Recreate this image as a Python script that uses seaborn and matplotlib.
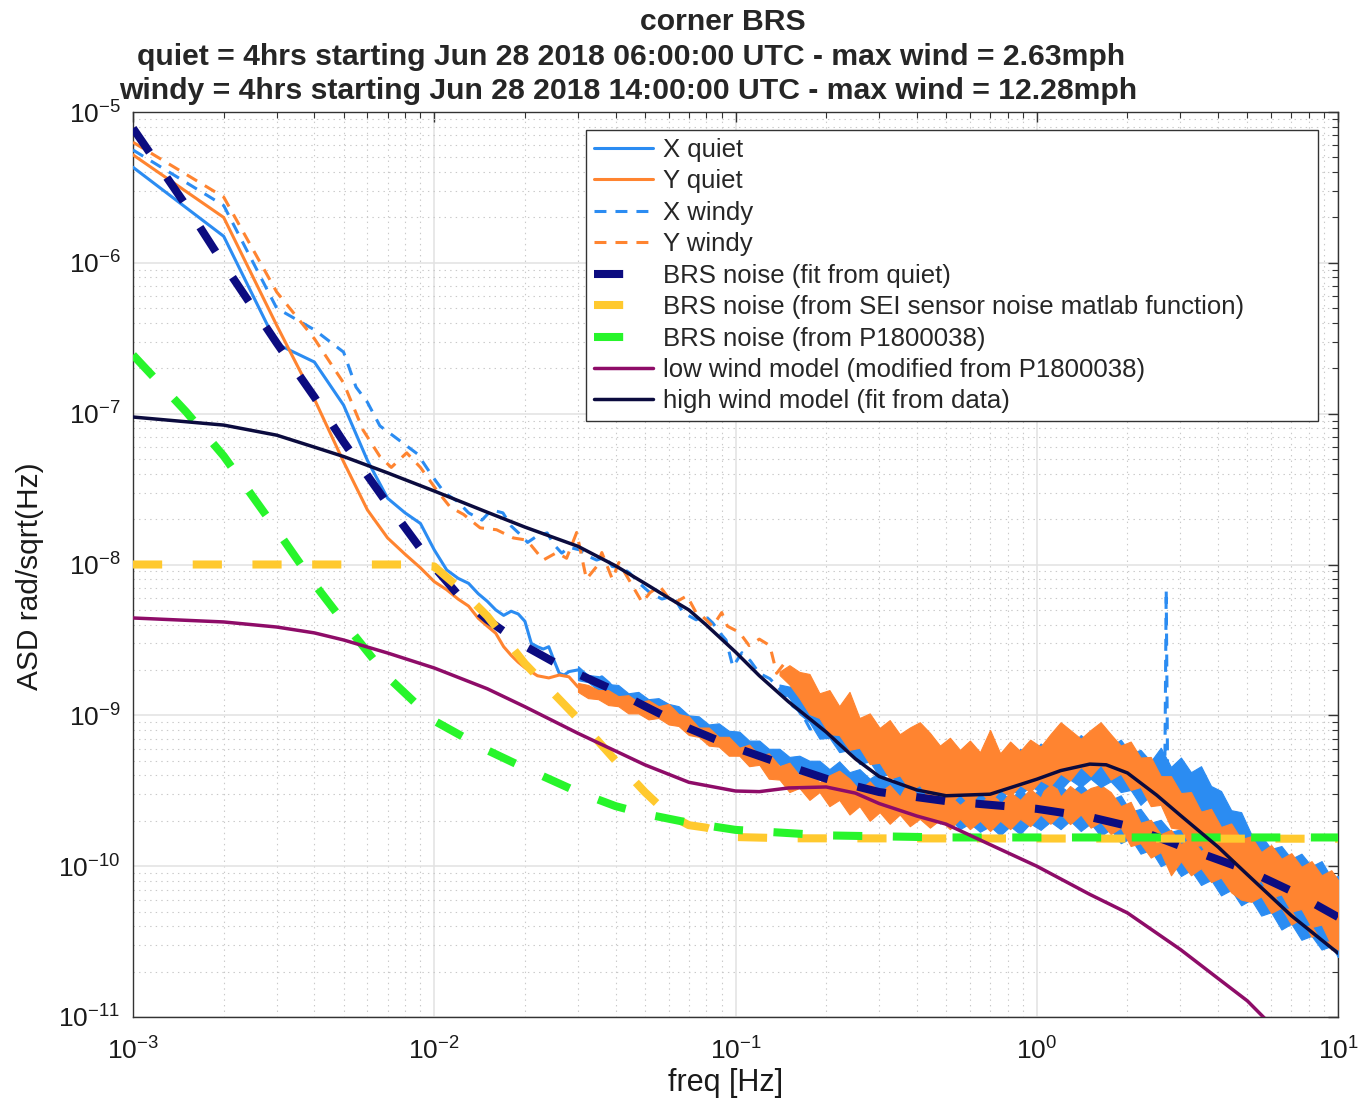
import numpy as np
import matplotlib
matplotlib.use("Agg")
import matplotlib.pyplot as plt
import seaborn as sns
from matplotlib.ticker import FixedLocator, NullFormatter, LogFormatterSciNotation

# ---------------- data ----------------
# X quiet (sparse low-frequency part)
xq_f = [0.001, 0.002, 0.003, 0.004, 0.005, 0.006, 0.007, 0.008, 0.009, 0.010,
        0.011, 0.012, 0.013, 0.014, 0.015, 0.016, 0.017, 0.018, 0.019, 0.020,
        0.021, 0.022, 0.023, 0.024, 0.025, 0.026, 0.027, 0.028, 0.030, 0.032,
        0.034, 0.036, 0.038, 0.040]
xq_v = [4.3e-6, 1.5e-6, 2.9e-7, 2.2e-7, 1.14e-7, 4.9e-8, 2.75e-8, 2.2e-8, 1.87e-8, 1.25e-8,
        9.2e-9, 8.1e-9, 7.5e-9, 6.4e-9, 5.7e-9, 5.0e-9, 4.6e-9, 4.9e-9, 4.7e-9, 4.2e-9,
        3.0e-9, 2.85e-9, 2.75e-9, 2.85e-9, 2.3e-9, 1.9e-9, 1.85e-9, 1.95e-9, 2.0e-9, 1.85e-9,
        1.7e-9, 1.8e-9, 1.64e-9, 1.45e-9]

# Y quiet (sparse low-frequency part)
yq_f = [0.001, 0.002, 0.003, 0.004, 0.005, 0.006, 0.007, 0.008, 0.009, 0.010,
        0.011, 0.012, 0.013, 0.014, 0.015, 0.016, 0.017, 0.018, 0.019, 0.020,
        0.022, 0.024, 0.026, 0.028, 0.030, 0.033, 0.036, 0.040]
yq_v = [5.2e-6, 2.0e-6, 3.85e-7, 1.25e-7, 4.8e-8, 2.3e-8, 1.5e-8, 1.17e-8, 9.5e-9, 7.7e-9,
        6.8e-9, 5.9e-9, 5.3e-9, 4.4e-9, 3.9e-9, 3.5e-9, 2.85e-9, 2.5e-9, 2.25e-9, 2.07e-9,
        1.83e-9, 1.77e-9, 1.85e-9, 1.8e-9, 1.54e-9, 1.5e-9, 1.38e-9, 1.34e-9]

# frequencies of the dense, noisy part (upper / lower envelope of the spectra)
band_f = [0.030, 0.0324, 0.035, 0.0378, 0.0408, 0.0441, 0.0476, 0.0514, 0.0555, 0.060,
          0.0647, 0.070, 0.0755, 0.0815, 0.088, 0.095, 0.103, 0.111, 0.12, 0.129,
          0.14, 0.151, 0.163, 0.176, 0.19, 0.205, 0.221, 0.239, 0.258, 0.279,
          0.301, 0.325, 0.351, 0.379, 0.409, 0.442, 0.477, 0.515, 0.556, 0.60,
          0.648, 0.70, 0.756, 0.816, 0.881, 0.951, 1.03, 1.11, 1.2, 1.29,
          1.4, 1.51, 1.63, 1.76, 1.9, 2.05, 2.21, 2.39, 2.58, 2.79,
          3.01, 3.25, 3.51, 3.79, 4.09, 4.42, 4.77, 5.15, 5.56, 6.0,
          6.49, 7.0, 7.56, 8.17, 8.82, 9.5, 10.0]
xq_hi = [2.12e-9, 1.85e-9, 1.82e-9, 1.61e-9, 1.59e-9, 1.40e-9, 1.43e-9, 1.28e-9, 1.30e-9, 1.19e-9,
         1.15e-9, 1.0e-9, 9.85e-10, 8.7e-10, 8.85e-10, 7.9e-10, 7.8e-10, 6.8e-10, 6.8e-10, 6.0e-10,
         6.0e-10, 5.3e-10, 5.4e-10, 5.0e-10, 5.0e-10, 4.4e-10, 4.95e-10, 4.2e-10, 4.4e-10, 3.8e-10,
         4.2e-10, 3.6e-10, 3.8e-10, 3.35e-10, 3.65e-10, 3.1e-10, 3.4e-10, 3.0e-10, 3.35e-10, 2.85e-10,
         3.15e-10, 2.7e-10, 3.1e-10, 2.8e-10, 3.2e-10, 2.85e-10, 3.3e-10, 2.95e-10, 3.4e-10, 3.05e-10,
         3.5e-10, 3.0e-10, 3.25e-10, 2.75e-10, 2.95e-10, 2.3e-10, 2.4e-10, 1.94e-10, 2.03e-10, 1.69e-10,
         1.76e-10, 1.45e-10, 1.55e-10, 1.28e-10, 1.38e-10, 1.16e-10, 1.26e-10, 1.03e-10, 1.14e-10, 9.4e-11,
         1.02e-10, 8.4e-11, 9.1e-11, 7.5e-11, 8.1e-11, 6.7e-11, 7.4e-11]
xq_lo = [1.71e-9, 1.66e-9, 1.47e-9, 1.45e-9, 1.28e-9, 1.26e-9, 1.15e-9, 1.15e-9, 1.03e-9, 1.03e-9,
         9.0e-10, 8.7e-10, 7.8e-10, 7.65e-10, 7.0e-10, 6.9e-10, 6.1e-10, 6.1e-10, 5.5e-10, 5.4e-10,
         4.7e-10, 4.6e-10, 4.1e-10, 4.3e-10, 3.75e-10, 3.95e-10, 3.5e-10, 3.65e-10, 3.25e-10, 3.45e-10,
         3.0e-10, 3.1e-10, 2.55e-10, 2.63e-10, 2.2e-10, 2.3e-10, 1.92e-10, 2.06e-10, 1.76e-10, 1.92e-10,
         1.69e-10, 1.84e-10, 1.6e-10, 1.84e-10, 1.63e-10, 1.92e-10, 1.74e-10, 1.97e-10, 1.76e-10, 2.0e-10,
         1.71e-10, 1.92e-10, 1.58e-10, 1.76e-10, 1.42e-10, 1.53e-10, 1.21e-10, 1.28e-10, 1.0e-10, 1.08e-10,
         8.6e-11, 9.4e-11, 7.5e-11, 8.1e-11, 6.4e-11, 6.95e-11, 5.5e-11, 6.0e-11, 4.7e-11, 4.95e-11,
         3.8e-11, 4.15e-11, 3.25e-11, 3.45e-11, 2.8e-11, 2.95e-11, 2.5e-11]
yq_hi = [1.64e-9, 1.59e-9, 1.47e-9, 1.47e-9, 1.34e-9, 1.36e-9, 1.22e-9, 1.26e-9, 1.15e-9, 1.19e-9,
         1.02e-9, 9.85e-10, 8.3e-10, 8.3e-10, 7.2e-10, 7.2e-10, 6.1e-10, 6.4e-10, 5.4e-10, 5.6e-10,
         4.6e-10, 4.85e-10, 4.0e-10, 4.3e-10, 3.6e-10, 4.0e-10, 4.3e-10, 3.8e-10, 3.2e-10, 3.65e-10,
         3.1e-10, 3.45e-10, 2.9e-10, 3.8e-10, 2.8e-10, 3.25e-10, 2.75e-10, 3.2e-10, 2.7e-10, 3.1e-10,
         2.67e-10, 3.7e-10, 2.55e-10, 3.1e-10, 2.75e-10, 3.25e-10, 2.85e-10, 4.0e-10, 2.9e-10, 3.4e-10,
         3.0e-10, 3.3e-10, 3.45e-10, 3.1e-10, 2.5e-10, 2.67e-10, 1.94e-10, 2.03e-10, 1.63e-10, 1.74e-10,
         1.4e-10, 1.53e-10, 1.26e-10, 1.4e-10, 1.14e-10, 1.24e-10, 1.0e-10, 1.14e-10, 9.1e-11, 1.03e-10,
         8.4e-11, 9.6e-11, 7.5e-11, 8.4e-11, 6.6e-11, 7.6e-11, 6.4e-11]
yq_lo = [1.43e-9, 1.30e-9, 1.28e-9, 1.17e-9, 1.15e-9, 1.03e-9, 1.03e-9, 9.4e-10, 9.6e-10, 8.7e-10,
         8.5e-10, 7.4e-10, 7.2e-10, 6.3e-10, 6.2e-10, 5.4e-10, 5.4e-10, 4.6e-10, 4.7e-10, 3.8e-10,
         3.75e-10, 3.1e-10, 3.3e-10, 2.75e-10, 3.1e-10, 2.5e-10, 2.75e-10, 2.2e-10, 2.5e-10, 2.0e-10,
         2.28e-10, 1.91e-10, 2.2e-10, 1.84e-10, 2.06e-10, 1.8e-10, 2.03e-10, 1.76e-10, 2.06e-10, 1.76e-10,
         2.0e-10, 1.71e-10, 2.0e-10, 1.76e-10, 2.06e-10, 1.84e-10, 2.2e-10, 1.91e-10, 2.23e-10, 1.9e-10,
         2.2e-10, 1.8e-10, 1.97e-10, 1.63e-10, 1.8e-10, 1.36e-10, 1.42e-10, 1.14e-10, 1.24e-10, 8.7e-11,
         1.08e-10, 8.7e-11, 9.7e-11, 7.85e-11, 8.4e-11, 6.7e-11, 6.0e-11, 5.8e-11, 6.3e-11, 4.9e-11,
         5.3e-11, 4.1e-11, 4.5e-11, 3.4e-11, 3.75e-11, 2.8e-11, 3.0e-11]

# X windy
xw_f = [0.001, 0.002, 0.003, 0.004, 0.005, 0.0055, 0.006, 0.0066, 0.0077, 0.0088,
        0.0099, 0.0108, 0.012, 0.013, 0.0144, 0.0155, 0.0169, 0.018, 0.0197, 0.0204,
        0.022, 0.0237, 0.025, 0.0265, 0.028, 0.0304, 0.032, 0.0346, 0.037, 0.039,
        0.042, 0.0445, 0.048, 0.052, 0.057, 0.062, 0.067, 0.074, 0.079, 0.084,
        0.089, 0.093, 0.098, 0.105, 0.112, 0.12, 0.13, 0.14, 0.155, 0.165,
        0.177, 0.19, 0.2, 0.213, 0.227, 0.245, 0.26, 0.28, 0.3, 0.35,
        0.5, 0.7, 1.0, 1.5, 2.0, 2.5, 2.66, 2.69, 2.72, 3.0,
        4.0, 5.0, 7.0, 10.0]
xw_v = [5.6e-6, 2.4e-6, 5.0e-7, 3.6e-7, 2.56e-7, 1.5e-7, 1.19e-7, 8.3e-8, 6.6e-8, 5.4e-8,
        3.8e-8, 3.0e-8, 2.6e-8, 2.2e-8, 1.97e-8, 2.3e-8, 2.2e-8, 1.8e-8, 1.52e-8, 1.4e-8,
        1.55e-8, 1.62e-8, 1.35e-8, 1.19e-8, 1.3e-8, 1.25e-8, 1.15e-8, 1.07e-8, 1.12e-8, 9.7e-9,
        9.5e-9, 8.8e-9, 7.5e-9, 6.5e-9, 5.9e-9, 6.2e-9, 4.8e-9, 4.3e-9, 4.6e-9, 4.1e-9,
        3.5e-9, 3.16e-9, 2.1e-9, 2.6e-9, 2.3e-9, 1.9e-9, 1.75e-9, 1.5e-9, 1.15e-9, 1.05e-9,
        8.1e-10, 9.0e-10, 9.4e-10, 7.5e-10, 7.0e-10, 6.0e-10, 5.6e-10, 5.0e-10, 5.3e-10, 4.3e-10,
        3.9e-10, 3.9e-10, 4.4e-10, 4.9e-10, 4.4e-10, 3.8e-10, 3.7e-10, 6.8e-9, 3.7e-10, 3.5e-10,
        2.3e-10, 1.3e-10, 6.8e-11, 4.6e-11]

# Y windy
yw_f = [0.001, 0.002, 0.003, 0.004, 0.005, 0.0058, 0.0066, 0.0072, 0.0081, 0.009,
        0.0102, 0.0113, 0.0125, 0.0142, 0.0161, 0.0183, 0.0203, 0.023, 0.0255, 0.0275,
        0.0297, 0.032, 0.0346, 0.036, 0.039, 0.041, 0.045, 0.049, 0.052, 0.056,
        0.062, 0.069, 0.074, 0.078, 0.084, 0.09, 0.094, 0.103, 0.111, 0.12,
        0.13, 0.137, 0.145, 0.155, 0.165, 0.177, 0.188, 0.2, 0.213, 0.227,
        0.245, 0.26, 0.28, 0.295, 0.35, 0.5, 0.7, 1.0, 1.5, 2.0,
        3.0, 4.0, 5.0, 7.0, 10.0]
yw_v = [6.3e-6, 2.73e-6, 6.4e-7, 3.14e-7, 1.6e-7, 7.8e-8, 5.2e-8, 4.4e-8, 5.5e-8, 4.4e-8,
        3.1e-8, 2.4e-8, 2.15e-8, 1.75e-8, 1.7e-8, 1.5e-8, 1.45e-8, 1.07e-8, 1.2e-8, 1.1e-8,
        1.63e-8, 8.0e-9, 9.7e-9, 1.2e-8, 8.0e-9, 1.03e-8, 7.5e-9, 5.6e-9, 6.5e-9, 7.2e-9,
        5.5e-9, 6.2e-9, 4.8e-9, 4.5e-9, 3.9e-9, 4.8e-9, 3.9e-9, 3.55e-9, 2.9e-9, 3.2e-9,
        2.9e-9, 1.9e-9, 2.2e-9, 1.8e-9, 1.5e-9, 1.28e-9, 1.35e-9, 1.15e-9, 9.5e-10, 7.7e-10,
        9.0e-10, 8.5e-10, 6.5e-10, 6.0e-10, 4.6e-10, 4.1e-10, 4.2e-10, 4.8e-10, 5.6e-10, 4.9e-10,
        2.3e-10, 1.45e-10, 1.1e-10, 7.0e-11, 4.7e-11]

# envelope of the dense windy data (from 0.14 Hz upward)
wband_f = band_f[20:]
xw_hi = [1.6e-9, 1.55e-9, 1.57e-9, 1.36e-9, 1.32e-9, 1.06e-9, 1.11e-9, 9.0e-10, 9.6e-10, 7.9e-10,
         8.25e-10, 6.9e-10, 7.4e-10, 6.1e-10, 6.6e-10, 5.6e-10, 6.2e-10, 5.25e-10, 5.8e-10, 4.95e-10,
         5.6e-10, 4.85e-10, 5.5e-10, 5.0e-10, 6.0e-10, 5.4e-10, 6.5e-10, 5.9e-10, 7.0e-10, 6.3e-10,
         7.4e-10, 6.5e-10, 7.4e-10, 6.2e-10, 6.9e-10, 5.6e-10, 5.9e-10, 4.95e-10, 6.1e-10, 4.55e-10,
         5.25e-10, 4.2e-10, 4.6e-10, 3.4e-10, 3.15e-10, 2.35e-10, 2.28e-10, 1.63e-10, 1.6e-10, 1.3e-10,
         1.36e-10, 1.12e-10, 1.21e-10, 1.0e-10, 1.08e-10, 8.4e-11, 8.6e-11]
xw_lo = [1.52e-9, 1.3e-9, 1.02e-9, 9.0e-10, 7.0e-10, 7.1e-10, 5.7e-10, 5.9e-10, 4.75e-10, 4.95e-10,
         3.9e-10, 4.1e-10, 3.35e-10, 3.55e-10, 2.9e-10, 3.2e-10, 2.63e-10, 3.0e-10, 2.6e-10, 2.95e-10,
         2.63e-10, 3.1e-10, 2.75e-10, 3.25e-10, 2.95e-10, 3.4e-10, 3.1e-10, 3.55e-10, 3.2e-10, 3.75e-10,
         3.35e-10, 3.8e-10, 3.35e-10, 3.65e-10, 3.1e-10, 3.2e-10, 2.55e-10, 2.95e-10, 2.55e-10, 2.9e-10,
         2.5e-10, 2.63e-10, 2.13e-10, 2.13e-10, 1.53e-10, 1.47e-10, 1.02e-10, 1.0e-10, 7.5e-11, 7.4e-11,
         5.35e-11, 5.3e-11, 4.0e-11, 4.15e-11, 3.25e-11, 3.2e-11, 2.5e-11]
yw_hi = [1.95e-9, 2.15e-9, 1.94e-9, 1.88e-9, 1.40e-9, 1.47e-9, 1.15e-9, 1.43e-9, 9.6e-10, 1.03e-9,
         8.25e-10, 9.3e-10, 7.5e-10, 8.3e-10, 9.0e-10, 7.65e-10, 6.3e-10, 7.1e-10, 5.9e-10, 6.8e-10,
         5.7e-10, 8.0e-10, 5.6e-10, 6.7e-10, 5.8e-10, 6.9e-10, 6.2e-10, 7.5e-10, 9.0e-10, 8.0e-10,
         7.0e-10, 8.0e-10, 9.0e-10, 7.5e-10, 6.3e-10, 6.7e-10, 5.25e-10, 5.3e-10, 3.95e-10, 3.95e-10,
         3.05e-10, 3.1e-10, 2.3e-10, 2.4e-10, 1.82e-10, 1.92e-10, 1.51e-10, 1.58e-10, 1.24e-10, 1.38e-10,
         1.12e-10, 1.22e-10, 9.9e-11, 1.08e-10, 8.7e-11, 9.4e-11, 8.1e-11]
yw_lo = [1.85e-9, 1.6e-9, 1.30e-9, 1.02e-9, 9.6e-10, 7.5e-10, 7.4e-10, 5.9e-10, 6.1e-10, 4.75e-10,
         4.85e-10, 3.8e-10, 4.0e-10, 3.2e-10, 3.45e-10, 2.75e-10, 3.0e-10, 2.6e-10, 3.0e-10, 2.55e-10,
         3.1e-10, 2.67e-10, 3.2e-10, 2.9e-10, 3.45e-10, 3.1e-10, 3.7e-10, 3.4e-10, 4.1e-10, 3.7e-10,
         4.55e-10, 3.95e-10, 4.7e-10, 3.75e-10, 4.1e-10, 3.2e-10, 3.35e-10, 2.5e-10, 2.55e-10, 1.8e-10,
         1.76e-10, 1.34e-10, 1.38e-10, 1.08e-10, 1.16e-10, 9.1e-11, 1.0e-10, 7.6e-11, 8.0e-11, 6.2e-11,
         6.5e-11, 5.0e-11, 5.2e-11, 3.95e-11, 4.1e-11, 3.0e-11, 2.8e-11]

# BRS noise (fit from quiet)
fit_f = [0.001, 0.0015, 0.002, 0.003, 0.004, 0.005, 0.007, 0.01, 0.012, 0.015,
         0.02, 0.025, 0.03, 0.04, 0.05, 0.07, 0.1, 0.15, 0.2, 0.3,
         0.5, 0.7, 1.0, 1.5, 2.0, 3.0, 5.0, 7.0, 10.0]
fit_v = [7.8e-6, 2.4e-6, 9.8e-7, 2.94e-7, 1.29e-7, 6.5e-8, 2.52e-8, 9.6e-9, 6.3e-9, 4.3e-9,
         2.88e-9, 2.25e-9, 1.88e-9, 1.45e-9, 1.15e-9, 8.2e-10, 6.1e-10, 4.6e-10, 3.8e-10, 3.1e-10,
         2.7e-10, 2.55e-10, 2.4e-10, 2.12e-10, 1.85e-10, 1.36e-10, 9.4e-11, 6.85e-11, 4.6e-11]

# BRS noise (from SEI sensor noise matlab function)
sei_f = [0.001, 0.008, 0.01, 0.012, 0.015, 0.02, 0.03, 0.04, 0.05, 0.06,
         0.07, 0.08, 0.1, 0.15, 10.0]
sei_v = [1.0e-8, 1.0e-8, 9.7e-9, 7.1e-9, 4.55e-9, 2.2e-9, 9.5e-10, 5.0e-10, 3.1e-10, 2.2e-10,
         1.87e-10, 1.8e-10, 1.56e-10, 1.53e-10, 1.52e-10]

# BRS noise (from P1800038)
p18_f = [0.001, 0.0015, 0.002, 0.003, 0.004, 0.005, 0.007, 0.01, 0.015, 0.02,
         0.03, 0.04, 0.05, 0.07, 0.1, 0.2, 0.5, 10.0]
p18_v = [2.45e-7, 1.03e-7, 5.24e-8, 1.69e-8, 7.43e-9, 4.16e-9, 1.8e-9, 9.2e-10, 5.87e-10, 4.47e-10,
         3.1e-10, 2.5e-10, 2.22e-10, 1.94e-10, 1.74e-10, 1.6e-10, 1.55e-10, 1.55e-10]

# low wind model (modified from P1800038)
low_f = [0.001, 0.002, 0.003, 0.004, 0.005, 0.007, 0.01, 0.015, 0.02, 0.03,
         0.05, 0.07, 0.1, 0.12, 0.15, 0.2, 0.25, 0.3, 0.4, 0.5,
         0.7, 1.0, 1.5, 2.0, 3.0, 4.0, 5.0, 7.0, 10.0]
low_v = [4.42e-9, 4.16e-9, 3.85e-9, 3.52e-9, 3.16e-9, 2.59e-9, 2.06e-9, 1.5e-9, 1.14e-9, 7.6e-10,
         4.7e-10, 3.6e-10, 3.15e-10, 3.12e-10, 3.3e-10, 3.35e-10, 3.05e-10, 2.6e-10, 2.15e-10, 1.9e-10,
         1.39e-10, 1.0e-10, 6.5e-11, 4.9e-11, 2.8e-11, 1.8e-11, 1.28e-11, 6.5e-12, 3.5e-12]

# high wind model (fit from data)
high_f = [0.001, 0.002, 0.003, 0.004, 0.005, 0.007, 0.01, 0.015, 0.02, 0.03,
          0.04, 0.05, 0.06, 0.07, 0.08, 0.1, 0.12, 0.15, 0.2, 0.25,
          0.3, 0.4, 0.5, 0.7, 1.0, 1.2, 1.5, 1.7, 2.0, 2.5,
          3.0, 4.0, 5.0, 7.0, 10.0]
high_v = [9.5e-8, 8.4e-8, 7.2e-8, 6.0e-8, 5.2e-8, 4.05e-8, 3.07e-8, 2.22e-8, 1.77e-8, 1.32e-8,
          9.8e-9, 7.5e-9, 6.0e-9, 5.0e-9, 3.97e-9, 2.63e-9, 1.83e-9, 1.23e-9, 7.75e-10, 5.15e-10,
          3.93e-10, 3.2e-10, 2.93e-10, 3.0e-10, 3.77e-10, 4.3e-10, 4.75e-10, 4.7e-10, 4.15e-10, 2.96e-10,
          2.17e-10, 1.34e-10, 8.8e-11, 4.7e-11, 2.65e-11]

# axis ticks (decades shown in the reference)
x_ticks = [1e-3, 1e-2, 1e-1, 1e0, 1e1]
y_ticks = [1e-11, 1e-10, 1e-9, 1e-8, 1e-7, 1e-6, 1e-5]

labels = ["X quiet", "Y quiet", "X windy", "Y windy",
          "BRS noise (fit from quiet)",
          "BRS noise (from SEI sensor noise matlab function)",
          "BRS noise (from P1800038)",
          "low wind model (modified from P1800038)",
          "high wind model (fit from data)"]
title_lines = ["corner BRS",
               "quiet = 4hrs starting Jun 28 2018 06:00:00 UTC - max wind = 2.63mph",
               "windy = 4hrs starting Jun 28 2018 14:00:00 UTC - max wind = 12.28mph"]

# ---------------- style ----------------
C_BLUE = "#2b8cf2"
C_ORANGE = "#ff8430"
C_FIT = "#0c0c80"
C_SEI = "#ffc92e"
C_P18 = "#27f52b"
C_LOW = "#8e0c68"
C_HIGH = "#0b0b3e"

sns.set_theme(style="white")
plt.rcParams["font.family"] = ["Liberation Sans", "DejaVu Sans"]
plt.rcParams["mathtext.fontset"] = "custom"
plt.rcParams["mathtext.rm"] = "Liberation Sans"
plt.rcParams["mathtext.it"] = "Liberation Sans:italic"
plt.rcParams["mathtext.bf"] = "Liberation Sans:bold"
plt.rcParams["mathtext.default"] = "regular"
plt.rcParams["axes.unicode_minus"] = False
plt.rcParams["lines.scale_dashes"] = False

fig = plt.figure(figsize=(13.62, 11.04), dpi=100)
fig.patch.set_facecolor("white")
ax = fig.add_axes([133 / 1362, 1 - 1017 / 1104, 1205 / 1362, 905 / 1104])
ax.set_xscale("log")
ax.set_yscale("log")

THIN = 2.2
THICK = 5.8
WINDY_DASH = (8.6, 6.5)
THICK_DASH = (21.0, 22.0)


def draw(f, v, color, lw, z, dashes=None):
    sns.lineplot(x=f, y=v, ax=ax, color=color, linewidth=lw, estimator=None,
                 sort=False, legend=False, zorder=z)
    ln = ax.lines[-1]
    if dashes is not None:
        ln.set_dashes(dashes)
        ln.set_dash_capstyle("butt")
    return ln


def band(f, lo, hi, color, z):
    ax.fill_between(f, lo, hi, facecolor=color, edgecolor=color, linewidth=0.8, zorder=z)


handles = []
handles.append(draw(xq_f, xq_v, C_BLUE, THIN, 3))
band(band_f, xq_lo, xq_hi, C_BLUE, 3)
handles.append(draw(yq_f, yq_v, C_ORANGE, THIN, 4))
band(band_f, yq_lo, yq_hi, C_ORANGE, 4)
handles.append(draw(xw_f, xw_v, C_BLUE, THIN, 5, WINDY_DASH))
band(wband_f, xw_lo, xw_hi, C_BLUE, 5)
handles.append(draw(yw_f, yw_v, C_ORANGE, THIN, 6, WINDY_DASH))
band(wband_f, yw_lo, yw_hi, C_ORANGE, 6)
handles.append(draw(fit_f, fit_v, C_FIT, THICK, 7, THICK_DASH))
handles.append(draw(sei_f, sei_v, C_SEI, THICK, 8, THICK_DASH))
handles.append(draw(p18_f, p18_v, C_P18, THICK, 9, THICK_DASH))
handles.append(draw(low_f, low_v, C_LOW, 2.5, 10))
handles.append(draw(high_f, high_v, C_HIGH, 2.5, 11))

ax.set_xlim(1e-3, 10)
ax.set_ylim(1e-11, 1e-5)

# ticks and grid (only decades inside the view)
x_minor = [m * d for d in x_ticks[:-1] for m in range(2, 10)]
y_minor = [m * d for d in y_ticks[:-1] for m in range(2, 10)]
ax.xaxis.set_major_locator(FixedLocator(x_ticks))
ax.yaxis.set_major_locator(FixedLocator(y_ticks))
ax.xaxis.set_minor_locator(FixedLocator(x_minor))
ax.yaxis.set_minor_locator(FixedLocator(y_minor))
for axis in (ax.xaxis, ax.yaxis):
    axis.set_major_formatter(LogFormatterSciNotation(base=10))
    axis.set_minor_formatter(NullFormatter())

ax.tick_params(which="both", direction="in", top=True, right=True,
               colors="#333333", labelcolor="#1a1a1a", labelsize=19)
ax.tick_params(which="major", length=7, width=1.0)
ax.tick_params(which="minor", length=4, width=0.8)
ax.tick_params(axis="y", which="major", pad=9)
ax.tick_params(axis="x", which="major", pad=15)
ax.grid(True, which="major", color="#e2e2e2", linewidth=1.1, linestyle="-")
ax.grid(True, which="minor", color="#c9c9c9", linewidth=0.8, linestyle=(0, (1, 3)))
ax.set_axisbelow(True)
for sp in ax.spines.values():
    sp.set_color("#333333")
    sp.set_linewidth(1.0)

ax.set_xlabel("freq [Hz]", fontsize=22, color="#1a1a1a")
ax.set_ylabel("ASD rad/sqrt(Hz)", fontsize=21.5, color="#1a1a1a")
ax.xaxis.set_label_coords(0.4917, -0.056)
ax.yaxis.set_label_coords(-0.074, 0.487)

# legend
leg = ax.legend(handles, labels, loc="upper right",
                bbox_to_anchor=(0.3759, 0.662, 0.6075, 0.318), mode="expand",
                borderaxespad=0, fontsize=18.5, frameon=True, fancybox=False,
                framealpha=1, edgecolor="#333333", handlelength=2.3,
                handletextpad=0.4, labelspacing=0.29, borderpad=0.3)
leg.get_frame().set_linewidth(1.0)
leg.set_zorder(20)

# title (three centred lines)
fig.text(723 / 1362, 1 - 30 / 1104, title_lines[0], ha="center", va="baseline",
         fontsize=21.7, fontweight="bold")
fig.text(631 / 1362, 1 - 65 / 1104, title_lines[1], ha="center", va="baseline",
         fontsize=21.7, fontweight="bold")
fig.text(628 / 1362, 1 - 99 / 1104, title_lines[2], ha="center", va="baseline",
         fontsize=21.7, fontweight="bold")

fig.savefig("out.png", dpi=100, facecolor="white")
